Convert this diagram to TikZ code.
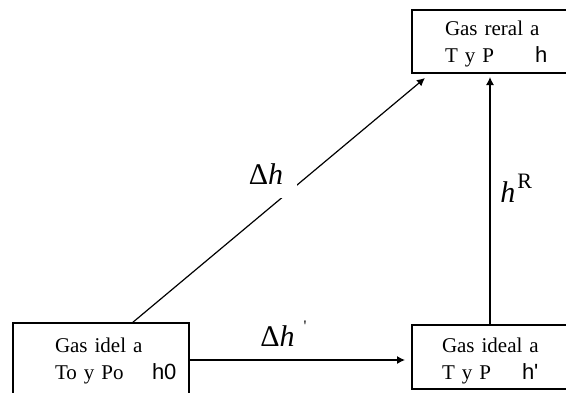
\documentclass[tikz,border=0pt]{standalone}
\usepackage{fontspec}
\setmainfont{Liberation Serif}
\newfontfamily\hfont{Liberation Sans}
\usetikzlibrary{arrows.meta}
\tikzset{
  gas box/.style   = {draw, line width=0.9pt, anchor=north west, outer sep=0pt,
                      inner ysep=0pt, text width=120pt, align=left,
                      font=\fontsize{10.5}{13.5}\selectfont},
  arr/.style       = {-{Latex[length=4pt,width=4pt]}, line width=0.6pt},
  delta lbl/.style = {inner sep=0pt, font=\fontsize{15}{15}\selectfont},
}
\newcommand{\hval}[1]{{\hfont\fontsize{11}{11}\selectfont #1}}

\begin{document}
\begin{tikzpicture}[x=0.5pt, y=-0.5pt]
  \useasboundingbox (0,0) rectangle (566,392);
  \clip (0,0) rectangle (566,392);

  %% --- the three states ------------------------------------------
  \node[gas box, inner xsep=16.5pt, text height=12.5pt, text depth=19pt]
    (real) at (412,10) {Gas reral a\\\makebox[45pt][l]{T y P}\hval{h}};
  \node[gas box, inner xsep=21pt, text width=46pt, text height=14.5pt,
        text depth=40pt]
    (ideal0) at (13,323) {Gas idel a\\\rlap{\makebox[48.5pt][l]{To y Po}\hval{h0}}};
  \node[gas box, inner xsep=15pt, text height=13.5pt, text depth=18.5pt]
    (idealTP) at (412,325)
    {Gas ideal a\\\makebox[40pt][l]{T y P}\hval{h\textquotesingle}};

  %% --- paths between them ----------------------------------------
  \draw[arr] ([xshift=59.5pt]ideal0.north west)
          -- ([xshift=6.5pt,yshift=-2.5pt]real.south west);
  \draw[arr] ([yshift=-18.5pt]ideal0.north east)
          -- ([xshift=-3.5pt,yshift=-17.5pt]idealTP.north west);
  \draw[arr] ([xshift=39pt]idealTP.north west)
          -- ([xshift=39pt,yshift=-2pt]real.south west);

  %% labels
  \node[delta lbl, fill=white, inner sep=6.7pt] (dh) at (266,174) {Δ\textit{h}};
  \node[delta lbl, anchor=base west] (dhp) at (260,346)
    {Δ\textit{h}\kern4.5pt\raisebox{7.2pt}{\fontsize{8}{8}\selectfont\textquotesingle}};
  \node[delta lbl, anchor=base west] (hR) at (500,202)
    {\textit{h}\kern1pt\raisebox{7pt}{\fontsize{11}{11}\selectfont R}};
\end{tikzpicture}
\end{document}
